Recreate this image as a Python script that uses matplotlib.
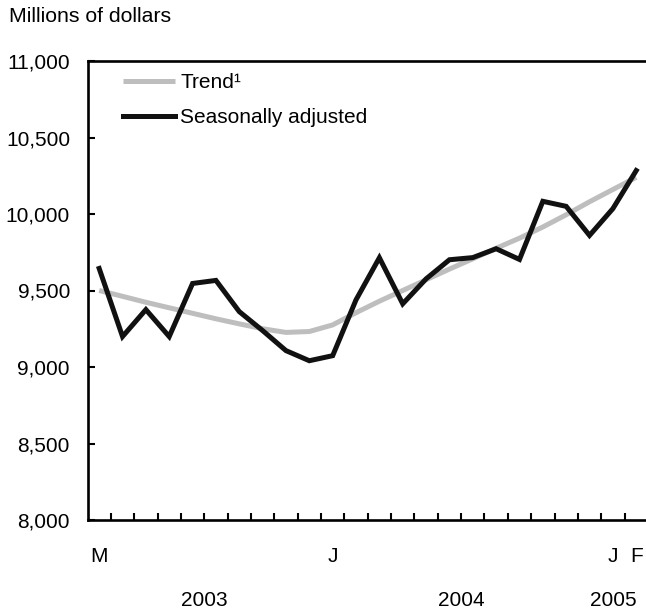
import numpy as np
import matplotlib
matplotlib.use("Agg")
import matplotlib.pyplot as plt
import matplotlib.transforms as mtransforms

plt.rcParams['font.family'] = ['Liberation Sans', 'DejaVu Sans']

# monthly data, March 2003 - February 2005 (millions of dollars)
seasonally_adjusted = [9644, 9199, 9375, 9199, 9546, 9566, 9362, 9238, 9107, 9041, 9074, 9439,
                       9714, 9413, 9576, 9701, 9715, 9773, 9703, 10083, 10050, 9860, 10035, 10284]
trend = [9500, 9462, 9423, 9387, 9351, 9315, 9282, 9250, 9226, 9232, 9275, 9355,
         9430, 9500, 9570, 9640, 9707, 9776, 9842, 9915, 9995, 10080, 10160, 10240]
month_labels = {0: "M", 10: "J", 22: "J", 23: "F"}
years = ["2003", "2004", "2005"]
year_centers = [5.0, 16.0, 22.5]
y_ticks = [8000, 8500, 9000, 9500, 10000, 10500, 11000]

x = np.arange(len(trend)) + 0.5

fig = plt.figure(figsize=(6.46, 6.13), dpi=100)
ax = fig.add_axes([87.5 / 646, 93 / 613, 560.4 / 646, 459 / 613])

ax.plot(x, trend, color='#bebebe', lw=3.6, label='Trend¹', solid_capstyle='butt')
ax.plot(x, seasonally_adjusted, color='#111111', lw=3.6, label='Seasonally adjusted',
        solid_joinstyle='miter')

ax.set_xlim(0, 24)
ax.set_ylim(8000, 11000)

ax.spines['right'].set_visible(False)
for s in ['left', 'bottom', 'top']:
    ax.spines[s].set_linewidth(1.9)

ax.set_yticks(y_ticks)
ax.set_yticklabels([f"{v:,}" for v in y_ticks])
ax.tick_params(axis='y', direction='in', length=5, width=1.5, pad=12.6, labelsize=15)

ax.set_xticks(list(np.array(list(month_labels.keys())) + 0.5))
ax.set_xticklabels(list(month_labels.values()))
ax.set_xticks(np.arange(1, 24), minor=True)
ax.tick_params(axis='x', which='major', length=0, pad=19.5, labelsize=15)
ax.tick_params(axis='x', which='minor', direction='in', length=5, width=1.5)

trans = mtransforms.blended_transform_factory(ax.transData, ax.transAxes)
for yr, xc in zip(years, year_centers):
    ax.text(xc, -0.175, yr, transform=trans, ha='center', va='center', fontsize=15)

fig.text(9 / 646, 1 - 17 / 613, "Millions of dollars", ha='left', va='center', fontsize=15.3)

ax.legend(loc='upper left', bbox_to_anchor=(0.0634, 0.973), frameon=False, fontsize=15,
          handlelength=2.5, handletextpad=0.25, labelspacing=0.75, borderpad=0,
          borderaxespad=0)

fig.savefig("out.png", dpi=100)
